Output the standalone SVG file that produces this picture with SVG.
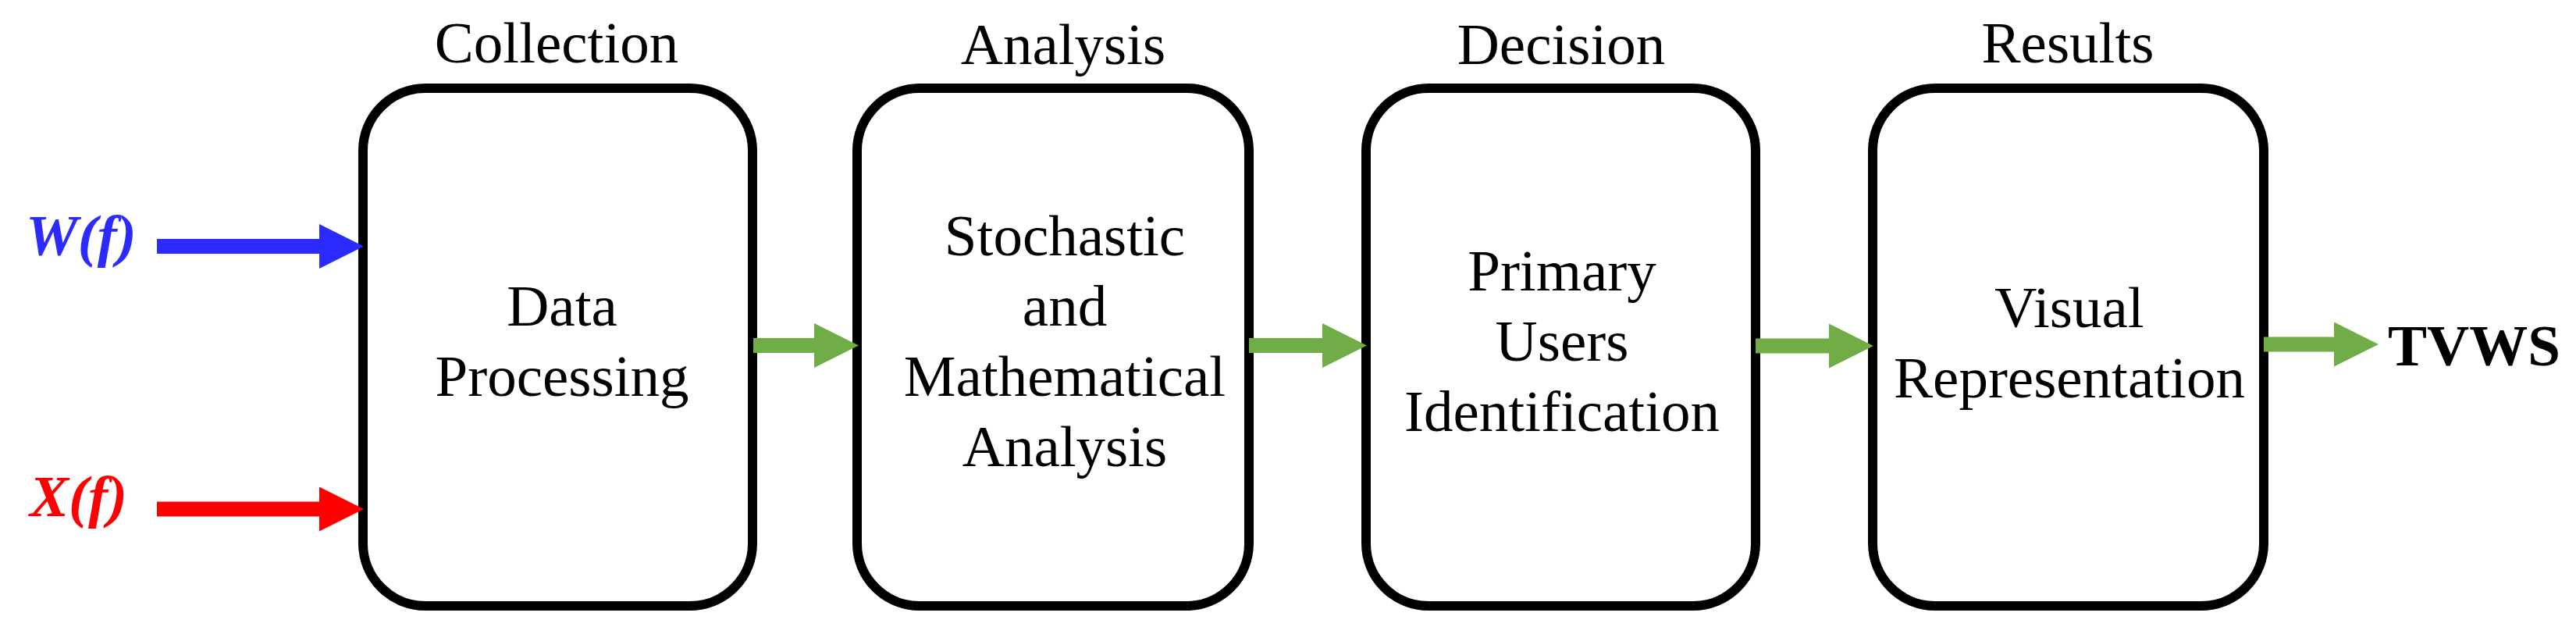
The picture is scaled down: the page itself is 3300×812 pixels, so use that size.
<svg xmlns="http://www.w3.org/2000/svg" width="3300" height="812" viewBox="0 0 3300 812">
<style>
.box{fill:#fff;stroke:#000;stroke-width:12}
.t{font-family:"Liberation Serif","Times New Roman",serif;font-size:75px;fill:#000;text-anchor:middle}
.in{font-family:"Liberation Serif","Times New Roman",serif;font-size:75px;font-weight:bold;font-style:italic}
.g{stroke:#70ad47;stroke-width:19;fill:none}
</style>
<defs>
<marker id="hg" markerUnits="userSpaceOnUse" markerWidth="57" markerHeight="57" viewBox="0 0 57 57" refX="0" refY="28.5" orient="auto"><path d="M0,0 L57,28.5 L0,57 z" fill="#70ad47"/></marker>
<marker id="hb" markerUnits="userSpaceOnUse" markerWidth="57" markerHeight="57" viewBox="0 0 57 57" refX="0" refY="28.5" orient="auto"><path d="M0,0 L57,28.5 L0,57 z" fill="#2b2bff"/></marker>
<marker id="hr" markerUnits="userSpaceOnUse" markerWidth="57" markerHeight="57" viewBox="0 0 57 57" refX="0" refY="28.5" orient="auto"><path d="M0,0 L57,28.5 L0,57 z" fill="#ff0000"/></marker>
</defs>
<rect width="3300" height="812" fill="#fff"/>
<g id="input-w">
<text class="in" x="33" y="327" fill="#2b2bff">W(f)</text>
</g>
<g id="input-x">
<text class="in" x="38" y="661" fill="#ff0000">X(f)</text>
</g>
<g id="node-collection">
<text class="t" x="713" y="80">Collection</text>
<rect class="box" x="465" y="113" width="499" height="663" rx="80" ry="80"/>
<text class="t" x="720" y="417">Data</text>
<text class="t" x="720" y="507">Processing</text>
</g>
<g id="node-analysis">
<text class="t" x="1362" y="82">Analysis</text>
<rect class="box" x="1098" y="113" width="502" height="663" rx="80" ry="80"/>
<text class="t" x="1364" y="327">Stochastic</text>
<text class="t" x="1364" y="417">and</text>
<text class="t" x="1364" y="507">Mathematical</text>
<text class="t" x="1364" y="597">Analysis</text>
</g>
<g id="node-decision">
<text class="t" x="2000" y="82">Decision</text>
<rect class="box" x="1750" y="113" width="499" height="663" rx="80" ry="80"/>
<text class="t" x="2001" y="372">Primary</text>
<text class="t" x="2001" y="462">Users</text>
<text class="t" x="2001" y="552">Identification</text>
</g>
<g id="node-results">
<text class="t" x="2649" y="80">Results</text>
<rect class="box" x="2399" y="113" width="501" height="663" rx="80" ry="80"/>
<text class="t" x="2651" y="419">Visual</text>
<text class="t" x="2651" y="509">Representation</text>
</g>
<g id="output-tvws">
<text x="3059" y="468" font-family="'Liberation Serif','Times New Roman',serif" font-size="75" font-weight="bold" fill="#000">TVWS</text>
</g>
<g id="connectors">
<line x1="201" y1="315.5" x2="409" y2="315.5" stroke="#2b2bff" stroke-width="19" marker-end="url(#hb)"/>
<line x1="201" y1="652" x2="409" y2="652" stroke="#ff0000" stroke-width="19" marker-end="url(#hr)"/>
<line class="g" x1="965" y1="442.5" x2="1043" y2="442.5" marker-end="url(#hg)"/>
<line class="g" x1="1600" y1="442.5" x2="1694" y2="442.5" marker-end="url(#hg)"/>
<line class="g" x1="2249" y1="443" x2="2343" y2="443" marker-end="url(#hg)"/>
<line class="g" x1="2900" y1="441" x2="2990" y2="441" marker-end="url(#hg)"/>
</g>
</svg>
